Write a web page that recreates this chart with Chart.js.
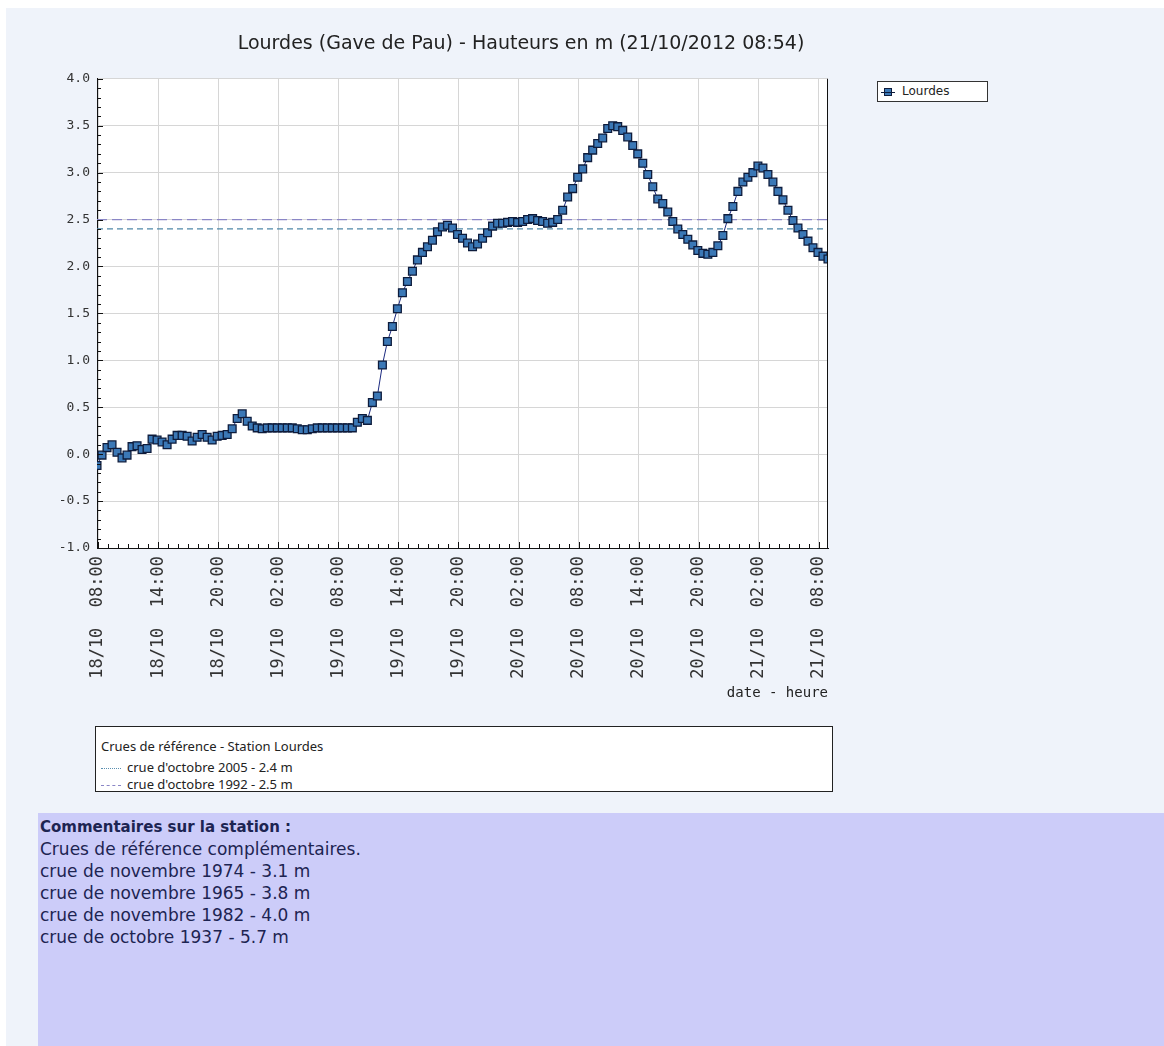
<!DOCTYPE html>
<html>
<head>
<meta charset="utf-8">
<script src="https://cdn.jsdelivr.net/npm/chart.js@4.4.1/dist/chart.umd.min.js"></script>
<style>
  body { margin: 0; background: #ffffff; font-family: "DejaVu Sans", sans-serif; }
  #page { position: absolute; left: 6px; top: 8px; right: 0; bottom: 0; background: #eff3fa; }
  #chart { position: absolute; left: 0; top: 0; }
  #serieLegend {
    position: absolute; left: 877px; top: 81px; width: 109px; height: 19px;
    border: 1px solid #333; background: #fff; font: 12px "DejaVu Sans", sans-serif; color: #222;
  }
  #serieLegend .mk {
    position: absolute; left: 6px; top: 6px; width: 6px; height: 6px;
    background: #3b78b6; border: 1px solid #0e1c3c;
  }
  #serieLegend .mk:before {
    content: ""; position: absolute; left: -4px; top: 3px; width: 14px; height: 1px; background: #0e1c3c;
  }
  #serieLegend span.txt { position: absolute; left: 24px; top: 2px; }
  #refBox {
    position: absolute; left: 95px; top: 726px; width: 736px; height: 64px;
    border: 1px solid #222; background: #fff; font: 13px "Noto Sans", sans-serif; color: #222;
  }
  #refBox div { position: absolute; left: 5px; white-space: nowrap; line-height: 16px; }
  #refBox .smp { display: inline-block; width: 20px; vertical-align: middle; margin-right: 6px; }
  #comments {
    position: absolute; left: 38px; top: 813px; right: 0; bottom: 0;
    background: #ccccf9; color: #1d2452; font: 17px "DejaVu Sans", sans-serif; line-height: 22px;
    padding: 2px 0 0 2px;
  }
  #comments b { font-size: 15px; }
</style>
</head>
<body>
<div id="page"></div>
<canvas id="chart" width="1042" height="703"></canvas>
<div id="serieLegend"><div class="mk"></div><span class="txt">Lourdes</span></div>
<div id="refBox">
  <div style="top:11px">Crues de référence - Station Lourdes</div>
  <div style="top:32px"><span class="smp" style="border-top:1px dotted #5b8fb0"></span>crue d'octobre 2005 - 2.4 m</div>
  <div style="top:49px"><span class="smp" style="border-top:1px dashed #8a86c6"></span>crue d'octobre 1992 - 2.5 m</div>
</div>
<div id="comments">
  <b>Commentaires sur la station :</b><br>
  Crues de référence complémentaires.<br>
  crue de novembre 1974 - 3.1 m<br>
  crue de novembre 1965 - 3.8 m<br>
  crue de novembre 1982 - 4.0 m<br>
  crue de octobre 1937 - 5.7 m
</div>
<script>
// hauteurs relevées toutes les 30 min, du 18/10 07:54 au 21/10 08:54 (heures depuis 18/10 08:00)
var firstHour = -0.1;
var stepHours = 0.5;
var heights = [
  -0.12, -0.01, 0.07, 0.10, 0.02, -0.04, -0.01, 0.08, 0.09, 0.05,
  0.06, 0.16, 0.15, 0.13, 0.10, 0.16, 0.20, 0.20, 0.19, 0.14,
  0.18, 0.21, 0.18, 0.15, 0.19, 0.20, 0.21, 0.27, 0.38, 0.43,
  0.35, 0.30, 0.28, 0.27, 0.28, 0.28, 0.28, 0.28, 0.28, 0.28,
  0.27, 0.26, 0.26, 0.27, 0.28, 0.28, 0.28, 0.28, 0.28, 0.28,
  0.28, 0.28, 0.34, 0.38, 0.36, 0.55, 0.62, 0.95, 1.20, 1.36,
  1.55, 1.72, 1.84, 1.95, 2.07, 2.15, 2.21, 2.28, 2.37, 2.42,
  2.44, 2.41, 2.34, 2.30, 2.25, 2.21, 2.24, 2.30, 2.36, 2.43,
  2.46, 2.46, 2.47, 2.48, 2.47, 2.48, 2.50, 2.51, 2.49, 2.48,
  2.46, 2.47, 2.50, 2.60, 2.74, 2.83, 2.95, 3.04, 3.16, 3.24,
  3.31, 3.37, 3.47, 3.50, 3.49, 3.45, 3.38, 3.29, 3.20, 3.10,
  2.98, 2.85, 2.72, 2.67, 2.58, 2.48, 2.40, 2.34, 2.29, 2.23,
  2.17, 2.14, 2.13, 2.15, 2.22, 2.33, 2.51, 2.64, 2.80, 2.90,
  2.95, 3.00, 3.07, 3.05, 2.98, 2.90, 2.80, 2.71, 2.60, 2.49,
  2.41, 2.34, 2.27, 2.20, 2.15, 2.11, 2.08
];

var xTickHours = [0, 6, 12, 18, 24, 30, 36, 42, 48, 54, 60, 66, 72];
var xTickLabels = ['18/10  08:00', '18/10  14:00', '18/10  20:00', '19/10  02:00', '19/10  08:00',
  '19/10  14:00', '19/10  20:00', '20/10  02:00', '20/10  08:00', '20/10  14:00',
  '20/10  20:00', '21/10  02:00', '21/10  08:00'];

var refLabels = ["crue d'octobre 2005 - 2.4 m", "crue d'octobre 1992 - 2.5 m"];
var refLevels = [2.4, 2.5];

var lastHour = firstHour + (heights.length - 1) * stepHours;
var points = heights.map(function (v, i) {
  return {x: firstHour + i * stepHours, y: v};
});

// fond blanc de la zone de trace
var plotBackground = {
  id: 'plotBackground',
  beforeDraw: function (chart) {
    var a = chart.chartArea;
    chart.ctx.save();
    chart.ctx.fillStyle = '#ffffff';
    chart.ctx.fillRect(a.left, a.top, a.right - a.left, a.bottom - a.top);
    chart.ctx.restore();
  }
};

// petits traits de graduation (heures et 0.1 m), dessines a l'interieur du cadre
var minorTicks = {
  id: 'minorTicks',
  afterDraw: function (chart) {
    var ctx = chart.ctx, a = chart.chartArea;
    var sx = chart.scales.x, sy = chart.scales.y;
    ctx.save();
    ctx.strokeStyle = '#111';
    ctx.lineWidth = 1;
    ctx.beginPath();
    for (var h = 0; h <= 72; h++) {
      var px = Math.round(sx.getPixelForValue(h)) + 0.5;
      var len = (h % 6 === 0) ? 6 : 4;
      ctx.moveTo(px, a.bottom);
      ctx.lineTo(px, a.bottom - len);
    }
    for (var k = -10; k <= 40; k++) {
      var py = Math.round(sy.getPixelForValue(k / 10)) + 0.5;
      var l2 = (k % 5 === 0) ? 6 : 4;
      ctx.moveTo(a.left, py);
      ctx.lineTo(a.left + l2, py);
    }
    ctx.moveTo(Math.round(a.right) - 0.5, a.top);
    ctx.lineTo(Math.round(a.right) - 0.5, a.bottom);
    ctx.stroke();
    ctx.restore();
  }
};

var ctx = document.getElementById('chart').getContext('2d');
new Chart(ctx, {
  type: 'line',
  data: {
    datasets: [
      {
        label: 'Lourdes',
        data: points,
        borderColor: '#1c2a80',
        borderWidth: 1,
        pointStyle: 'rect',
        pointRadius: 5.5,
        pointBackgroundColor: '#3b78b6',
        pointBorderColor: '#0e1c3c',
        pointBorderWidth: 1.3,
        tension: 0
      },
      {
        label: refLabels[0],
        data: [{x: firstHour, y: refLevels[0]}, {x: lastHour, y: refLevels[0]}],
        borderColor: '#4f88a8',
        borderWidth: 1.2,
        borderDash: [6, 4],
        pointRadius: 0
      },
      {
        label: refLabels[1],
        data: [{x: firstHour, y: refLevels[1]}, {x: lastHour, y: refLevels[1]}],
        borderColor: '#8a86c6',
        borderWidth: 1.2,
        borderDash: [10, 5],
        pointRadius: 0
      }
    ]
  },
  options: {
    responsive: false,
    animation: false,
    devicePixelRatio: 1,
    layout: {padding: 0},
    plugins: {
      legend: {display: false},
      tooltip: {enabled: false},
      title: {
        display: true,
        text: 'Lourdes (Gave de Pau) - Hauteurs en m (21/10/2012 08:54)',
        color: '#222',
        font: {family: 'DejaVu Sans', size: 19, weight: 'normal'},
        padding: {top: 33, bottom: 23}
      }
    },
    scales: {
      x: {
        type: 'linear',
        min: firstHour,
        max: lastHour,
        afterBuildTicks: function (scale) {
          scale.ticks = xTickHours.map(function (h) { return {value: h}; });
        },
        afterFit: function (scale) { scale.height = 155; },
        ticks: {
          autoSkip: false,
          minRotation: 90,
          maxRotation: 90,
          padding: 8,
          color: '#333',
          font: {family: 'DejaVu Sans Mono', size: 17},
          callback: function (value) {
            var i = xTickHours.indexOf(value);
            return i >= 0 ? xTickLabels[i] : '';
          }
        },
        grid: {color: '#d6d6d6', drawTicks: false},
        border: {color: '#111', width: 1},
        title: {
          display: true,
          text: 'date - heure',
          align: 'end',
          color: '#222',
          font: {family: 'DejaVu Sans Mono', size: 14},
          padding: {top: 0, bottom: 1}
        }
      },
      y: {
        min: -1,
        max: 4,
        afterFit: function (scale) { scale.width = 97; },
        ticks: {
          stepSize: 0.5,
          padding: 7,
          color: '#333',
          font: {family: 'DejaVu Sans Mono', size: 13},
          callback: function (value) { return value.toFixed(1); }
        },
        grid: {color: '#d6d6d6', drawTicks: false},
        border: {color: '#111', width: 1}
      },
      // marge droite reservee (la legende de la serie est a cote)
      y2: {
        position: 'right',
        afterFit: function (scale) { scale.width = 214; },
        ticks: {display: false},
        grid: {display: false, drawTicks: false},
        border: {display: false}
      }
    }
  },
  plugins: [plotBackground, minorTicks]
});
</script>
</body>
</html>
